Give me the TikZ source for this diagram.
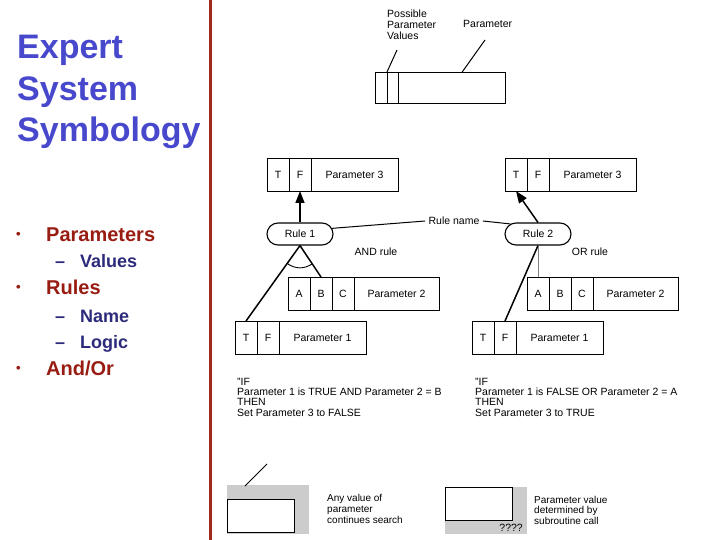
\documentclass[tikz,border=0pt]{standalone}
\usepackage{fontspec}
\setmainfont{Liberation Sans}
\usetikzlibrary{positioning,shapes.misc,arrows.meta,calc}

\definecolor{titleblue}{RGB}{72,72,204}
\definecolor{itemred}{RGB}{152,28,18}
\definecolor{subnavy}{RGB}{44,42,122}
\definecolor{barred}{RGB}{160,40,30}
\definecolor{shade}{RGB}{204,204,204}

\begin{document}
\begin{tikzpicture}[x=1pt,y=-1pt,
  every node/.style={font=\fontsize{10.5}{11}\selectfont},
  cell/.style={draw, line width=0.9pt, minimum height=33pt, inner sep=0pt, outer sep=0pt},
  rulebox/.style={draw, rounded rectangle, line width=1.1pt, minimum width=66pt, minimum height=22pt, inner sep=0pt},
  link/.style={line width=1.5pt},
  leader/.style={line width=1pt},
  note/.style={align=left, inner sep=0pt, anchor=north west},
  bullet/.style={anchor=base west, inner sep=0pt, text=itemred, font=\fontsize{13}{13}\bfseries\selectfont},
  item/.style={anchor=base west, inner sep=0pt, text=itemred, font=\fontsize{20}{24}\bfseries\selectfont},
  subitem/.style={anchor=base west, inner sep=0pt, text=subnavy, font=\fontsize{18}{22}\bfseries\selectfont}]
  \useasboundingbox (0,0) rectangle (720,540);

  % left column
  \draw [barred, line width=3pt] (210,0) -- (210,540);
  \node [anchor=north west, inner sep=0pt, align=left, text=titleblue,
    font=\fontsize{34}{41.5}\bfseries\selectfont] (title) at (17,35) {Expert\\System\\Symbology};

  \node [bullet] (dot1) at (16,238) {•};
  \node [item] (parameters) at (46,241) {Parameters};
  \node [subitem] (dash1) at (55,267) {–};
  \node [subitem] (values) at (80,267) {Values};
  \node [bullet] (dot2) at (16,291) {•};
  \node [item] (rules) at (46,294) {Rules};
  \node [subitem] (dash2) at (55,322) {–};
  \node [subitem] (name) at (80,322) {Name};
  \node [subitem] (dash3) at (55,348) {–};
  \node [subitem] (logic) at (80,348) {Logic};
  \node [bullet] (dot3) at (16,372) {•};
  \node [item] (andor) at (46,375) {And/Or};

  % parameter legend
  \node [cell, minimum width=12pt, minimum height=31pt, anchor=north west] (pv1) at (375,72) {};
  \node [cell, minimum width=11pt, minimum height=31pt, right=0pt of pv1] (pv2) {};
  \node [cell, minimum width=107pt, minimum height=31pt, right=0pt of pv2] (pmain) {};
  \node [note] (possible) at (387,10) {Possible\\Parameter\\Values};
  \node [note] (paramlabel) at (463,20) {Parameter};
  \coordinate (possibleend) at (397,50);
  \coordinate (paramend) at (485,40);
  \coordinate (ptop) at ($(pmain.north west)!0.6!(pmain.north east)$);
  \draw [leader] (possibleend) -- (pv1.north east);
  \draw [leader] (paramend) -- (ptop);

  % AND rule
  \node [cell, minimum width=22pt, anchor=north west] (aT3) at (267,158) {T};
  \node [cell, minimum width=22pt, right=0pt of aT3] (aF3) {F};
  \node [cell, minimum width=87pt, right=0pt of aF3] (aP3) {Parameter 3};
  \node [rulebox] (rule1) at (300,234) {Rule 1};
  \node [cell, minimum width=22pt, anchor=north west] (aA2) at (288,277) {A};
  \node [cell, minimum width=22pt, right=0pt of aA2] (aB2) {B};
  \node [cell, minimum width=22pt, right=0pt of aB2] (aC2) {C};
  \node [cell, minimum width=85pt, right=0pt of aC2] (aP2) {Parameter 2};
  \node [cell, minimum width=22pt, anchor=north west] (aT1) at (235,321) {T};
  \node [cell, minimum width=22pt, right=0pt of aT1] (aF1) {F};
  \node [cell, minimum width=87pt, right=0pt of aF1] (aP1) {Parameter 1};
  \node (andrule) at (376,252) {AND rule};

  \draw [link, -{Triangle[length=12pt,width=9pt]}] (rule1.north) -- (aF3.south);
  \draw [link] (rule1.south) -- (aT1.north);
  \draw [link] (rule1.south) -- (aB2.north);
  \draw [line width=0.9pt] ($(rule1.south)!22pt!(aT1.north)$) to [bend right=35] ($(rule1.south)!22pt!(aB2.north)$);

  % OR rule
  \node [cell, minimum width=22pt, anchor=north west] (oT3) at (505,158) {T};
  \node [cell, minimum width=22pt, right=0pt of oT3] (oF3) {F};
  \node [cell, minimum width=87pt, right=0pt of oF3] (oP3) {Parameter 3};
  \node [rulebox] (rule2) at (538,234) {Rule 2};
  \node [cell, minimum width=22pt, anchor=north west] (oA2) at (527,277) {A};
  \node [cell, minimum width=22pt, right=0pt of oA2] (oB2) {B};
  \node [cell, minimum width=22pt, right=0pt of oB2] (oC2) {C};
  \node [cell, minimum width=85pt, right=0pt of oC2] (oP2) {Parameter 2};
  \node [cell, minimum width=22pt, anchor=north west] (oT1) at (472,321) {T};
  \node [cell, minimum width=22pt, right=0pt of oT1] (oF1) {F};
  \node [cell, minimum width=87pt, right=0pt of oF1] (oP1) {Parameter 1};
  \node (orrule) at (590,252) {OR rule};

  \draw [link, -{Triangle[length=12pt,width=9pt]}] (rule2.north) -- (oT3.south);
  \draw [link] (rule2.south) -- (oF1.north);
  \draw [gray, line width=0.6pt] (rule2.south) -- (oA2.north);

  % rule name
  \node (rulename) at (454,221) {Rule name};
  \draw [leader] (rule1.10) -- (rulename.west);
  \draw [leader] (rulename.east) -- (rule2.160);

  % rule texts
  \node [note, font=\fontsize{10.5}{10.2}\selectfont] (andtext) at (237,378)
    {"IF\\Parameter 1 is TRUE AND Parameter 2 = B\\THEN\\Set Parameter 3 to FALSE};
  \node [note, font=\fontsize{10.5}{10.2}\selectfont] (ortext) at (475,378)
    {"IF\\Parameter 1 is FALSE OR Parameter 2 = A\\THEN\\Set Parameter 3 to TRUE};

  % search legends
  \node [fill=shade, minimum width=82pt, minimum height=49pt, inner sep=0pt, anchor=north west] (anybg) at (227,485) {};
  \node [draw, fill=white, line width=0.9pt, minimum width=67pt, minimum height=33pt, inner sep=0pt, anchor=north west] (anybox) at (227,499) {};
  \coordinate (anyend) at (267,464);
  \coordinate (anytip) at (245,486);
  \draw [leader] (anyend) -- (anytip);
  \node [note, font=\fontsize{10}{11}\selectfont] (anytext) at (327,494) {Any value of\\parameter\\continues search};

  \node [fill=shade, minimum width=82pt, minimum height=47pt, inner sep=0pt, anchor=north west] (subbg) at (445,487) {};
  \node [draw, fill=white, line width=0.9pt, minimum width=67pt, minimum height=33pt, inner sep=0pt, anchor=north west] (subbox) at (445,487) {};
  \node [anchor=east, inner sep=0pt] (qmarks) at (523,528) {????};
  \node [note, font=\fontsize{10}{10.5}\selectfont] (subtext) at (534,496) {Parameter value\\determined by\\subroutine call};
\end{tikzpicture}
\end{document}
